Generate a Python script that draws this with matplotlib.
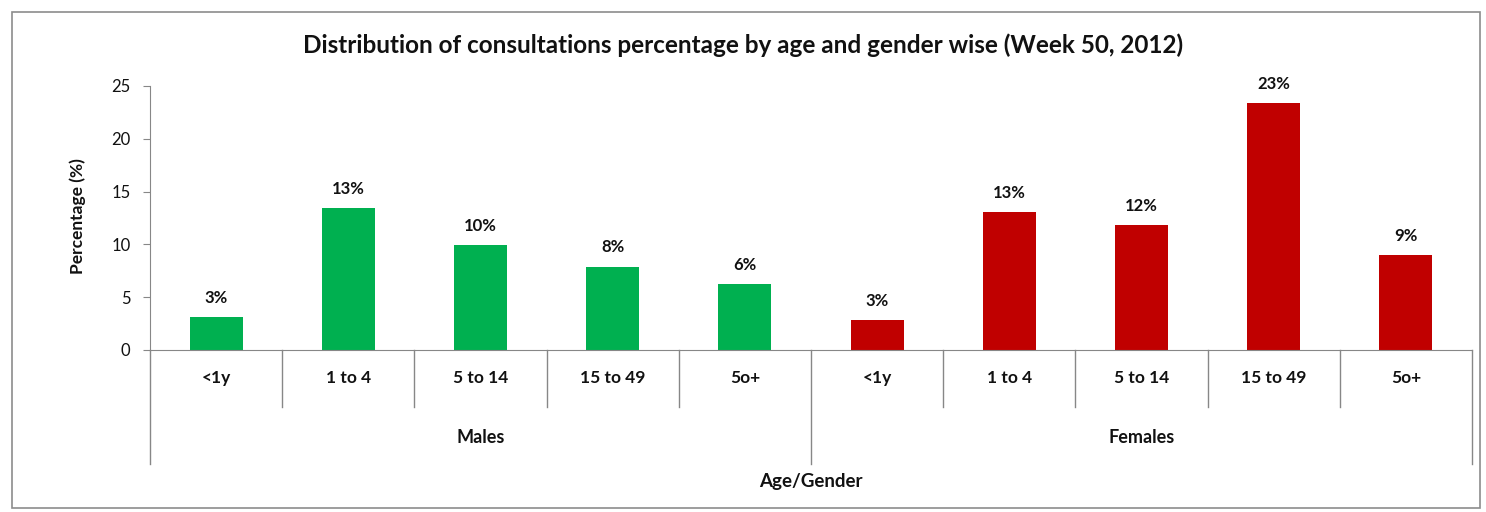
import matplotlib.pyplot as plt
import matplotlib.transforms as mtransforms
from matplotlib.patches import Rectangle

plt.rcParams['font.family'] = ['Lato', 'DejaVu Sans']

age_groups = ['<1y', '1 to 4', '5 to 14', '15 to 49', '5o+']
genders = ['Males', 'Females']
males = [3.1, 13.4, 9.9, 7.9, 6.25]
females = [2.85, 13.1, 11.8, 23.4, 9.0]
male_labels = ['3%', '13%', '10%', '8%', '6%']
female_labels = ['3%', '13%', '12%', '23%', '9%']

fig = plt.figure(figsize=(14.86, 5.12), dpi=100)
fig.patches.append(Rectangle((12 / 1486, 4 / 512), 1468 / 1486, 496 / 512,
                             transform=fig.transFigure, fill=False,
                             edgecolor='#8c8c8c', linewidth=1.2))
ax = fig.add_axes([150 / 1486, 162 / 512, 1322 / 1486, 264 / 512])

values = males + females
labels = male_labels + female_labels
colors = ['#00B050'] * len(males) + ['#C00000'] * len(females)
x = list(range(len(values)))
bars = ax.bar(x, values, width=0.4, color=colors)
for b, lab in zip(bars, labels):
    ax.annotate(lab, (b.get_x() + b.get_width() / 2, b.get_height()),
                xytext=(0, 8), textcoords='offset points', ha='center',
                va='bottom', fontsize=12, fontweight='bold', color='#111111')

ax.set_xlim(-0.5, len(values) - 0.5)
ax.set_ylim(0, 25)
ax.set_yticks([0, 5, 10, 15, 20, 25])
ax.tick_params(axis='y', direction='out', length=5, color='#878787',
               labelsize=12, labelcolor='#111111', pad=9)
ax.set_xticks([])
for s in ['top', 'right']:
    ax.spines[s].set_visible(False)
ax.spines['left'].set_color('#878787')
ax.spines['bottom'].set_color('#878787')

trans = mtransforms.blended_transform_factory(ax.transData, ax.transAxes)
n = len(age_groups)
for i in range(len(values) + 1):
    pos = i - 0.5
    depth = -0.432 if i % n == 0 else -0.216
    ax.plot([pos, pos], [0, depth], color='#878787', lw=1, transform=trans,
            clip_on=False)
for i in range(len(values)):
    ax.text(i, -0.105, age_groups[i % n], transform=trans, ha='center',
            va='center', fontsize=12.5, fontweight='bold', color='#111111')
for g, name in enumerate(genders):
    ax.text(g * n + (n - 1) / 2, -0.33, name, transform=trans, ha='center',
            va='center', fontsize=13, fontweight='bold', color='#111111')

ax.text(0.5, -0.5, 'Age/Gender', transform=ax.transAxes, ha='center',
        va='center', fontsize=13.5, fontweight='bold', color='#111111')
fig.text(78 / 1486, (512 - 216) / 512, 'Percentage (%)', rotation=90,
         ha='center', va='center', fontsize=12.5, fontweight='bold',
         color='#111111')
fig.text(0.5, (512 - 45) / 512,
         'Distribution of consultations percentage by age and gender wise (Week 50, 2012)',
         ha='center', va='center', fontsize=17.5, fontweight='bold',
         color='#111111')

fig.savefig('out.png', dpi=100)
